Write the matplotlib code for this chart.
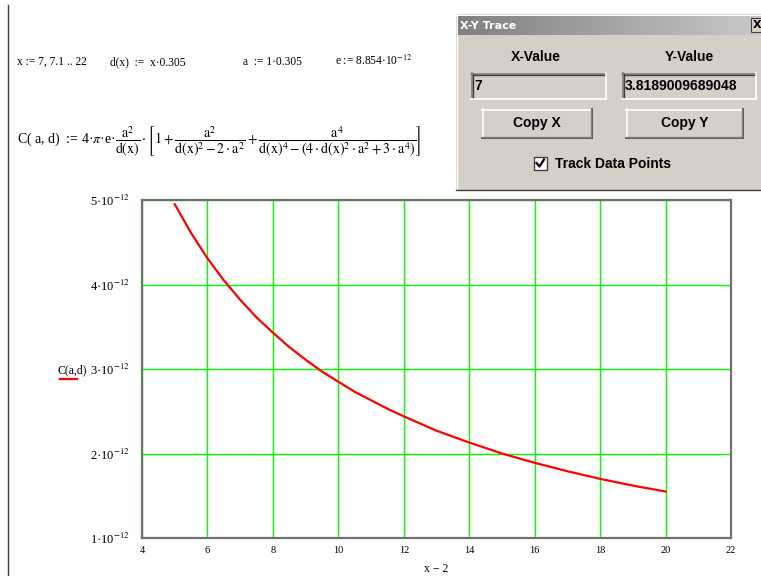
import numpy as np
import matplotlib.pyplot as plt
from matplotlib.patches import Rectangle
from matplotlib.colors import LinearSegmentedColormap

# values (x - 2, C in units of 1e-12 F)
x_shift = [5, 5.5, 6, 6.5, 7, 7.5, 8, 8.5, 9, 9.5, 10, 10.5, 11, 11.5, 12,
           13, 14, 15, 16, 17, 18, 19, 20]
cap = [4.95, 4.61, 4.31, 4.05, 3.82, 3.61, 3.43, 3.26, 3.11, 2.97, 2.85,
       2.73, 2.63, 2.53, 2.44, 2.27, 2.13, 2.00, 1.89, 1.79, 1.70, 1.62, 1.55]
x_ticks = [4, 6, 8, 10, 12, 14, 16, 18, 20, 22]
y_ticks = [1, 2, 3, 4, 5]

trace_x = '7'
trace_y = '3.8189009689048'

W, H = 761, 576
plt.rcParams['mathtext.fontset'] = 'stix'
plt.rcParams['font.family'] = 'Liberation Serif'

fig = plt.figure(figsize=(W / 100, H / 100), dpi=100)
fig.patch.set_facecolor('white')

# overlay in pixel coordinates for the worksheet bits
ov = fig.add_axes([0, 0, 1, 1])
ov.set_xlim(0, W)
ov.set_ylim(H, 0)
ov.axis('off')

ov.plot([7.5, 7.5], [5, H], color='#404040', lw=1)

# worksheet definitions
fs = 8.3
ov.text(17, 65, 'x := 7, 7.1 .. 22', fontsize=fs, va='baseline')
ov.text(110, 65, 'd(x)  :=  x·0.305', fontsize=fs, va='baseline')
ov.text(243, 65, 'a  := 1·0.305', fontsize=fs, va='baseline')
ov.text(335, 65, r'e := 8.854·10$^{-12}$', fontsize=fs, va='baseline')
ov.text(17, 142,
        r'C( a, d)  := 4·$\pi$·e·$\dfrac{\mathrm{a}^2}{\mathrm{d(x)}}'
        r'\cdot\left[1+\dfrac{\mathrm{a}^2}{\mathrm{d(x)}^2-2\cdot \mathrm{a}^2}+'
        r'\dfrac{\mathrm{a}^4}{\mathrm{d(x)}^4-\left(4\cdot \mathrm{d(x)}^2\cdot \mathrm{a}^2+3\cdot \mathrm{a}^4\right)}\right]$',
        fontsize=10, va='center')

# X-Y Trace dialog
gray = '#d4d0c8'
ov.add_patch(Rectangle((456, 14), W - 456 + 5, 176, facecolor=gray, edgecolor='none'))
ov.plot([456, W], [14.5, 14.5], color='white', lw=1)
ov.plot([456.5, 456.5], [14, 190], color='white', lw=1)
ov.plot([456, W], [189.5, 189.5], color='#404040', lw=1)
grad = np.linspace(0, 1, 256).reshape(1, -1)
ov.imshow(grad, cmap=LinearSegmentedColormap.from_list('t', ['#808080', '#c8c8c8']),
          extent=(458, W, 35, 16), aspect='auto', zorder=2)
ov.set_xlim(0, W)
ov.set_ylim(H, 0)
ov.text(460, 26, 'X-Y Trace', fontsize=8, color='white', fontweight='bold',
        family='DejaVu Sans', va='center', zorder=3)
ov.add_patch(Rectangle((751, 18), 12, 14, facecolor=gray, edgecolor='#404040', lw=0.8, zorder=3))
ov.text(753, 25.5, 'X', fontsize=8, fontweight='bold', family='DejaVu Sans', va='center', zorder=4)


def sunken(x0, y0, x1, y1):
    ov.add_patch(Rectangle((x0, y0), x1 - x0, y1 - y0, facecolor=gray, edgecolor='none'))
    ov.plot([x0, x1], [y0 + 0.5, y0 + 0.5], color='#808080', lw=1.2)
    ov.plot([x0 + 0.5, x0 + 0.5], [y0, y1], color='#808080', lw=1.2)
    ov.plot([x0 + 1.5, x1 - 1], [y0 + 1.5, y0 + 1.5], color='#404040', lw=1)
    ov.plot([x0 + 1.5, x0 + 1.5], [y0 + 1, y1 - 1], color='#404040', lw=1)
    ov.plot([x0, x1], [y1 - 0.5, y1 - 0.5], color='white', lw=1.2)
    ov.plot([x1 - 0.5, x1 - 0.5], [y0, y1], color='white', lw=1.2)


def raised(x0, y0, x1, y1, label):
    ov.add_patch(Rectangle((x0, y0), x1 - x0, y1 - y0, facecolor=gray, edgecolor='none'))
    ov.plot([x0, x1], [y0 + 0.5, y0 + 0.5], color='white', lw=1.2)
    ov.plot([x0 + 0.5, x0 + 0.5], [y0, y1], color='white', lw=1.2)
    ov.plot([x0, x1], [y1 - 0.5, y1 - 0.5], color='#404040', lw=1.2)
    ov.plot([x1 - 0.5, x1 - 0.5], [y0, y1], color='#404040', lw=1.2)
    ov.plot([x0 + 1, x1 - 1.5], [y1 - 1.5, y1 - 1.5], color='#808080', lw=1)
    ov.plot([x1 - 1.5, x1 - 1.5], [y0 + 1, y1 - 1.5], color='#808080', lw=1)
    ov.text((x0 + x1) / 2, (y0 + y1) / 2, label, fontsize=10, fontweight='bold',
            family='Liberation Sans', ha='center', va='center')


ov.text(536, 57, 'X-Value', fontsize=10, fontweight='bold', family='Liberation Sans',
        ha='center', va='center')
ov.text(689, 57, 'Y-Value', fontsize=10, fontweight='bold', family='Liberation Sans',
        ha='center', va='center')
sunken(471, 73, 606, 99)
sunken(622, 73, 756, 99)
ov.text(474, 86.5, trace_x, fontsize=10, fontweight='bold', family='Liberation Sans', va='center')
ov.text(625, 86.5, trace_y, fontsize=10, fontweight='bold', family='Liberation Sans', va='center')
raised(482, 109, 592, 138, 'Copy X')
raised(626, 109, 743, 138, 'Copy Y')
ov.add_patch(Rectangle((533.5, 157), 13, 13, facecolor='white', edgecolor='#404040', lw=1))
ov.plot([536.5, 539.5, 544], [163, 166.5, 159.5], color='black', lw=1.6)
ov.text(555, 163.5, 'Track Data Points', fontsize=10, fontweight='bold',
        family='Liberation Sans', va='center')

# the plot itself
ax = fig.add_axes([142 / W, 1 - 538 / H, 589 / W, 338 / H])
ax.plot(x_shift, np.array(cap) * 1e-12, color='red', lw=1.6, zorder=3)
ax.set_xlim(4, 22)
ax.set_ylim(1e-12, 5e-12)
ax.set_xticks(x_ticks)
ax.set_yticks([v * 1e-12 for v in y_ticks])
ax.set_xticklabels([str(t) for t in x_ticks], fontsize=7.5)
ax.set_yticklabels([r'%d·10$^{-12}$' % v for v in y_ticks], fontsize=9)
ax.tick_params(length=0, pad=6)
ax.tick_params(axis='y', pad=9)
ax.grid(True, color='#00ff00', lw=1)
for s in ax.spines.values():
    s.set_color('#707070')
    s.set_linewidth(1.6)

ov.text(57, 373, 'C(a,d)', fontsize=8.5, va='baseline')
ov.plot([60, 77], [378.5, 378.5], color='red', lw=1.6)
ov.text(436, 569, 'x − 2', fontsize=8.5, ha='center', va='center')

fig.savefig('out.png', dpi=100)
